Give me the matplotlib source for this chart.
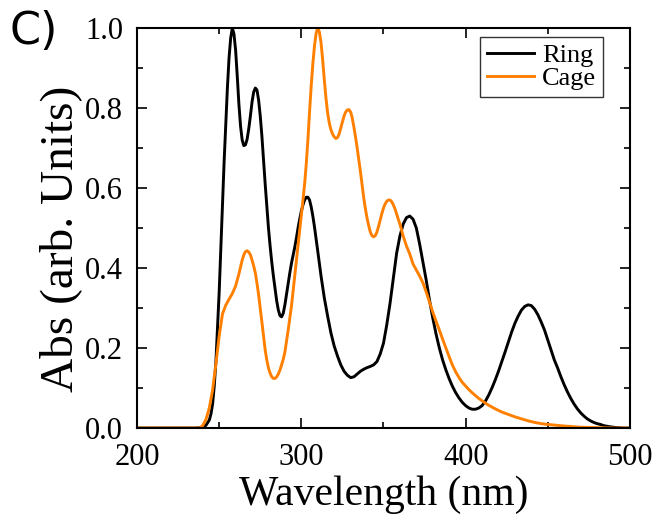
import matplotlib
matplotlib.use("Agg")
import matplotlib.pyplot as plt
from matplotlib.ticker import MultipleLocator

# values (wavelength in nm, normalised absorbance)
ring_wl = [200, 236, 240, 242, 244, 245, 246, 247, 248, 249,
           250, 251, 252, 253, 254, 255, 256, 257, 258, 259,
           260, 261, 262, 263, 264, 265, 266, 267, 268, 269,
           270, 271, 272, 273, 274, 275, 276, 277, 278, 279,
           280, 281, 282, 283, 284, 285, 286, 287, 288, 289,
           290, 291, 292, 293, 294, 295, 296, 297, 298, 299,
           300, 301, 302, 303, 304, 305, 306, 307, 308, 309,
           310, 311, 312, 313, 314, 316, 318, 320, 322, 324,
           326, 328, 330, 332, 334, 336, 338, 340, 342, 344,
           346, 348, 350, 352, 354, 356, 358, 360, 362, 364,
           366, 368, 370, 372, 374, 376, 378, 380, 382, 384,
           386, 388, 390, 392, 394, 396, 398, 400, 402, 404,
           406, 408, 410, 412, 414, 416, 418, 420, 422, 424,
           426, 428, 430, 432, 434, 436, 438, 440, 442, 444,
           446, 448, 450, 452, 454, 456, 458, 460, 462, 464,
           466, 468, 470, 472, 474, 476, 478, 480, 482, 484,
           488, 492, 496, 500]
ring_abs = [0, 0, 0.002, 0.007, 0.02, 0.035, 0.06, 0.105, 0.165, 0.25,
            0.34, 0.45, 0.56, 0.665, 0.76, 0.85, 0.925, 0.975, 1.0, 0.985,
            0.945, 0.88, 0.81, 0.755, 0.72, 0.706, 0.708, 0.722, 0.748, 0.78,
            0.815, 0.84, 0.85, 0.845, 0.82, 0.78, 0.73, 0.67, 0.61, 0.555,
            0.5, 0.455, 0.415, 0.38, 0.35, 0.318, 0.295, 0.281, 0.278, 0.287,
            0.308, 0.335, 0.362, 0.388, 0.412, 0.432, 0.452, 0.475, 0.5, 0.522,
            0.542, 0.558, 0.57, 0.577, 0.577, 0.57, 0.553, 0.53, 0.503, 0.473,
            0.442, 0.41, 0.38, 0.352, 0.325, 0.28, 0.238, 0.205, 0.18, 0.158,
            0.142, 0.132, 0.126, 0.128, 0.135, 0.142, 0.147, 0.151, 0.154, 0.158,
            0.166, 0.185, 0.212, 0.258, 0.312, 0.375, 0.437, 0.48, 0.51, 0.526,
            0.53, 0.522, 0.5, 0.46, 0.415, 0.37, 0.32, 0.275, 0.235, 0.2,
            0.17, 0.145, 0.123, 0.104, 0.088, 0.075, 0.064, 0.056, 0.05, 0.047,
            0.047, 0.05, 0.056, 0.067, 0.082, 0.1, 0.12, 0.142, 0.166, 0.19,
            0.215, 0.24, 0.262, 0.28, 0.295, 0.304, 0.308, 0.306, 0.297, 0.283,
            0.265, 0.245, 0.22, 0.195, 0.17, 0.15, 0.128, 0.108, 0.09, 0.074,
            0.06, 0.048, 0.038, 0.03, 0.023, 0.018, 0.014, 0.011, 0.009, 0.006,
            0.003, 0.001, 0, 0]

cage_wl = [200, 238, 240, 242, 244, 246, 248, 250, 252, 254,
           256, 258, 260, 262, 263, 264, 265, 266, 267, 268,
           269, 270, 271, 272, 273, 274, 275, 276, 277, 278,
           279, 280, 281, 282, 283, 284, 285, 286, 287, 288,
           289, 290, 292, 294, 296, 297, 298, 299, 300, 301,
           302, 303, 304, 305, 306, 307, 308, 309, 310, 311,
           312, 313, 314, 315, 316, 317, 318, 319, 320, 321,
           322, 323, 324, 325, 326, 327, 328, 329, 330, 331,
           332, 333, 334, 335, 336, 337, 338, 339, 340, 341,
           342, 343, 344, 345, 346, 347, 348, 349, 350, 351,
           352, 353, 354, 355, 356, 357, 358, 359, 360, 361,
           362, 364, 366, 368, 370, 372, 374, 376, 378, 380,
           382, 384, 386, 388, 390, 392, 394, 396, 398, 400,
           402, 404, 406, 408, 410, 414, 418, 422, 426, 430,
           434, 438, 442, 446, 450, 455, 460, 470, 480, 490, 500]
cage_abs = [0, 0, 0.006, 0.022, 0.05, 0.095, 0.16, 0.23, 0.285, 0.307,
            0.322, 0.336, 0.355, 0.385, 0.402, 0.42, 0.433, 0.441, 0.443, 0.44,
            0.433, 0.42, 0.405, 0.388, 0.362, 0.333, 0.3, 0.265, 0.23, 0.195,
            0.17, 0.15, 0.137, 0.128, 0.124, 0.124, 0.128, 0.135, 0.145, 0.158,
            0.172, 0.19, 0.245, 0.305, 0.38, 0.417, 0.455, 0.492, 0.53, 0.57,
            0.61, 0.66, 0.72, 0.79, 0.855, 0.91, 0.955, 0.987, 1.0, 0.99,
            0.963, 0.92, 0.87, 0.825, 0.788, 0.763, 0.746, 0.735, 0.728, 0.724,
            0.726, 0.735, 0.75, 0.766, 0.78, 0.79, 0.795, 0.796, 0.79, 0.775,
            0.752, 0.727, 0.7, 0.67, 0.64, 0.607, 0.575, 0.548, 0.525, 0.506,
            0.49, 0.481, 0.478, 0.481, 0.49, 0.504, 0.52, 0.536, 0.55, 0.56,
            0.567, 0.57, 0.57, 0.566, 0.558, 0.548, 0.535, 0.522, 0.51, 0.495,
            0.48, 0.455, 0.435, 0.41, 0.395, 0.38, 0.363, 0.34, 0.315, 0.29,
            0.267, 0.245, 0.222, 0.2, 0.178, 0.157, 0.14, 0.126, 0.114, 0.105,
            0.096, 0.088, 0.081, 0.074, 0.068, 0.057, 0.048, 0.04, 0.034, 0.028,
            0.023, 0.018, 0.014, 0.011, 0.009, 0.007, 0.005, 0.002, 0.001, 0, 0]

x_ticks = [200, 300, 400, 500]
y_ticks = [0, 0.2, 0.4, 0.6, 0.8, 1.0]
y_tick_labels = ["0.0", "0.2", "0.4", "0.6", "0.8", "1.0"]

serif = "Liberation Serif"

fig = plt.figure(figsize=(6.61, 5.17), dpi=100)
ax = fig.add_axes([0.2073, 0.1721, 0.7457, 0.7737])

ax.plot(ring_wl, ring_abs, color="black", lw=2.1, label="Ring", solid_joinstyle="round")
ax.plot(cage_wl, cage_abs, color="#FF8000", lw=2.1, label="Cage", solid_joinstyle="round")

ax.set_xlim(200, 500)
ax.set_ylim(0, 1.0)
ax.set_xticks(x_ticks)
ax.set_xticklabels([str(v) for v in x_ticks], family=serif, fontsize=22)
ax.set_yticks(y_ticks)
ax.set_yticklabels(y_tick_labels, family=serif, fontsize=22)
ax.xaxis.set_minor_locator(MultipleLocator(50))
ax.yaxis.set_minor_locator(MultipleLocator(0.1))
ax.tick_params(which="both", direction="in", top=True, right=True, width=1.2)
ax.tick_params(which="major", length=7)
ax.tick_params(which="minor", length=4)
ax.tick_params(axis="x", which="major", pad=11)
ax.tick_params(axis="y", which="major", pad=10)
for s in ax.spines.values():
    s.set_linewidth(1.5)

ax.set_xlabel("Wavelength (nm)", family=serif, fontsize=30, labelpad=2)
ax.set_ylabel("Abs (arb. Units)", family=serif, fontsize=34)
ax.yaxis.set_label_coords(-0.112, 0.473)

leg = ax.legend(loc="upper right", bbox_to_anchor=(0.945, 0.978), prop={"family": serif, "size": 19},
                frameon=True, fancybox=False, edgecolor="black", handlelength=1.8,
                handletextpad=0.3, borderpad=0.25, labelspacing=0.0, borderaxespad=0)
leg.get_frame().set_linewidth(1.0)

fig.text(0.014, 0.981, "C)", fontsize=32, family="DejaVu Sans", va="top", ha="left")

fig.savefig("out.png", dpi=100)
